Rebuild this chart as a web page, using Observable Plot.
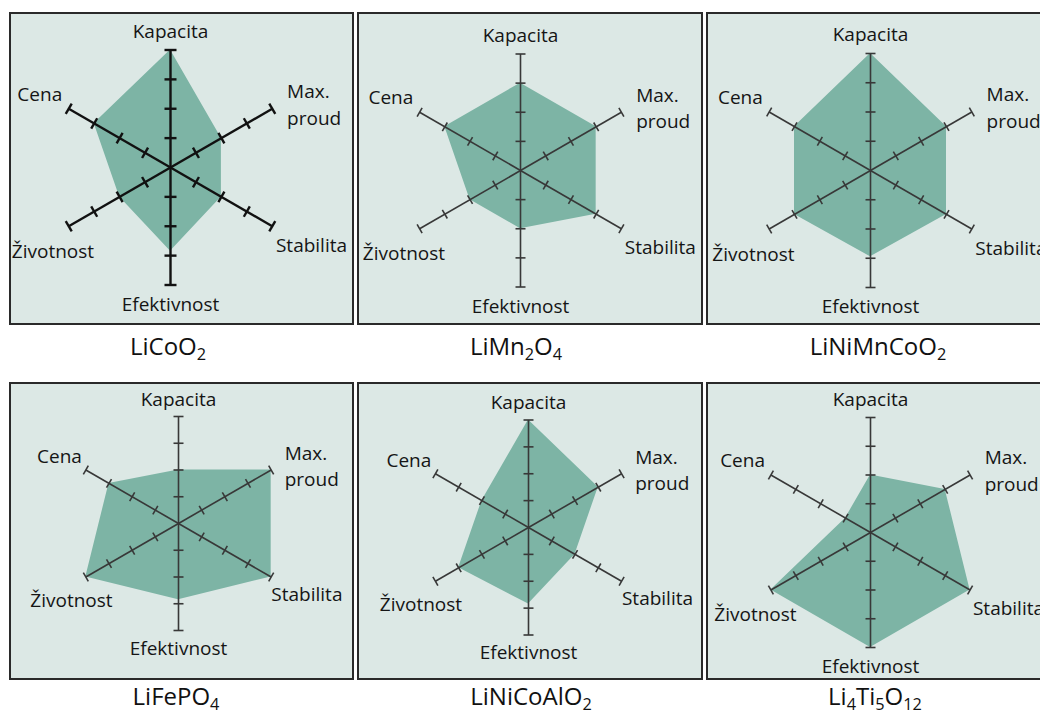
<!DOCTYPE html>
<html><head><meta charset="utf-8">
<script src="https://cdn.jsdelivr.net/npm/d3@7"></script>
<script src="https://cdn.jsdelivr.net/npm/@observablehq/plot@0.6"></script>
<style>
html,body{margin:0;padding:0;background:#fff;overflow:hidden;}
#root{position:relative;width:1040px;height:712px;overflow:hidden;font-family:"Open Sans",sans-serif;}
.panel{position:absolute;box-sizing:border-box;border:2px solid #2a2a2a;background:#dce8e5;}
.panel svg{position:absolute;left:0;top:0;overflow:visible;}
.title{position:absolute;width:260px;text-align:center;font-size:24px;line-height:24px;color:#111;white-space:nowrap;}
.title sub{font-size:0.68em;vertical-align:-0.3em;line-height:0;}
</style></head><body><div id="root"></div><script>
// ---- data ----
const axes = ["Kapacita", "Max. proud", "Stabilita", "Efektivnost", "Životnost", "Cena"];
const axisLabels = ["Kapacita", "Max.\nproud", "Stabilita", "Efektivnost", "Životnost", "Cena"];
const materials = ["LiCoO2", "LiMn2O4", "LiNiMnCoO2", "LiFePO4", "LiNiCoAlO2", "Li4Ti5O12"];
const vLiCoO2     = [4, 2, 2, 2.85, 2, 3];
const vLiMn2O4    = [3, 3, 3, 2, 2, 3];
const vLiNiMnCoO2 = [4, 3, 3, 2.95, 3, 3];
const vLiFePO4    = [2, 4, 4, 2.85, 4, 3];
const vLiNiCoAlO2 = [4, 3, 2, 2.85, 3, 2];
const vLi4Ti5O12  = [2, 3, 4, 4, 4, 1];
const seriesValues = [vLiCoO2, vLiMn2O4, vLiNiMnCoO2, vLiFePO4, vLiNiCoAlO2, vLi4Ti5O12];
const tickValues = [1, 2, 3, 4];
const maxValue = 4;

// ---- layout / style ----
const layout = [
  {left:9,   top:12,  w:345, h:313, cx:170, cy:167, r:117.5, stroke:"#111", sw:2.4, th:6,   tx:168, tb:355},
  {left:357, top:12,  w:346, h:313, cx:520, cy:170, r:116.5, stroke:"#383838", sw:1.6, th:5, tx:516, tb:355},
  {left:706, top:12,  w:350, h:313, cx:870, cy:170, r:117,   stroke:"#383838", sw:1.6, th:5, tx:878, tb:355},
  {left:9,   top:382, w:345, h:298, cx:178, cy:523, r:107,   stroke:"#383838", sw:1.6, th:5, tx:176, tb:705},
  {left:357, top:382, w:346, h:298, cx:528, cy:527, r:107.5, stroke:"#383838", sw:1.6, th:5, tx:531, tb:705},
  {left:706, top:382, w:350, h:298, cx:870, cy:532, r:115,   stroke:"#383838", sw:1.6, th:5, tx:875, tb:705}
];
// label positions in axis units (y up)
const labelPos = [
  {x:0,     y:4.62,  anchor:"middle"},
  {x:3.97,  y:2.2,   anchor:"start"},
  {x:4.8,   y:-2.67, anchor:"middle"},
  {x:0,     y:-4.67, anchor:"middle"},
  {x:-4.0,  y:-2.88, anchor:"middle"},
  {x:-4.45, y:2.48,  anchor:"middle"}
];
const fillColor = "#7db4a5";
const B = 2; // border width

const angle = i => Math.PI / 2 - i * Math.PI / 3;
const root = document.getElementById("root");

materials.forEach((name, m) => {
  const L = layout[m];
  const vals = seriesValues[m];
  const unit = L.r / maxValue;
  const h = L.th / unit;
  const pts = axes.map((a, i) => ({axis: a, i, value: vals[i]}));
  const axisData = axes.map((a, i) => ({axis: a, i}));
  const tickData = axes.flatMap((a, i) => tickValues.map(k => ({i, k})));
  const labels = axisLabels.map((t, i) => ({text: t, ...labelPos[i]}));
  const cx = L.cx - L.left - B, cy = L.cy - L.top - B;

  const chart = Plot.plot({
    width: L.w - 2 * B, height: L.h - 2 * B,
    margin: 0,
    x: {axis: null, domain: [-maxValue, maxValue], range: [cx - L.r, cx + L.r]},
    y: {axis: null, domain: [-maxValue, maxValue], range: [cy + L.r, cy - L.r]},
    style: {background: "transparent", fontFamily: "'Open Sans', sans-serif", overflow: "visible"},
    marks: [
      Plot.area(pts, {
        x1: d => d.value * Math.cos(angle(d.i)), y1: d => d.value * Math.sin(angle(d.i)),
        x2: 0, y2: 0, curve: "linear-closed", fill: fillColor, fillOpacity: 1, stroke: "none"
      }),
      Plot.link(axisData, {
        x1: 0, y1: 0,
        x2: d => maxValue * Math.cos(angle(d.i)), y2: d => maxValue * Math.sin(angle(d.i)),
        stroke: L.stroke, strokeWidth: L.sw
      }),
      Plot.link(tickData, {
        x1: d => d.k * Math.cos(angle(d.i)) - h * Math.sin(angle(d.i)),
        y1: d => d.k * Math.sin(angle(d.i)) + h * Math.cos(angle(d.i)),
        x2: d => d.k * Math.cos(angle(d.i)) + h * Math.sin(angle(d.i)),
        y2: d => d.k * Math.sin(angle(d.i)) - h * Math.cos(angle(d.i)),
        stroke: L.stroke, strokeWidth: L.sw
      }),
      Plot.text(labels.filter(d => d.anchor === "middle"), {
        x: "x", y: "y", text: "text", textAnchor: "middle", fontSize: 19, fill: "#151515"
      }),
      Plot.text(labels.filter(d => d.anchor === "start"), {
        x: "x", y: "y", text: "text", textAnchor: "start", fontSize: 19, lineHeight: 1.4, fill: "#151515"
      })
    ]
  });

  const panel = document.createElement("div");
  panel.className = "panel";
  Object.assign(panel.style, {left: L.left + "px", top: L.top + "px", width: L.w + "px", height: L.h + "px"});
  panel.appendChild(chart);
  root.appendChild(panel);

  const title = document.createElement("div");
  title.className = "title";
  title.innerHTML = name.replace(/(\d+)/g, "<sub>$1</sub>");
  Object.assign(title.style, {left: (L.tx - 130) + "px", top: (L.tb - 21) + "px"});
  root.appendChild(title);
});
</script></body></html>
